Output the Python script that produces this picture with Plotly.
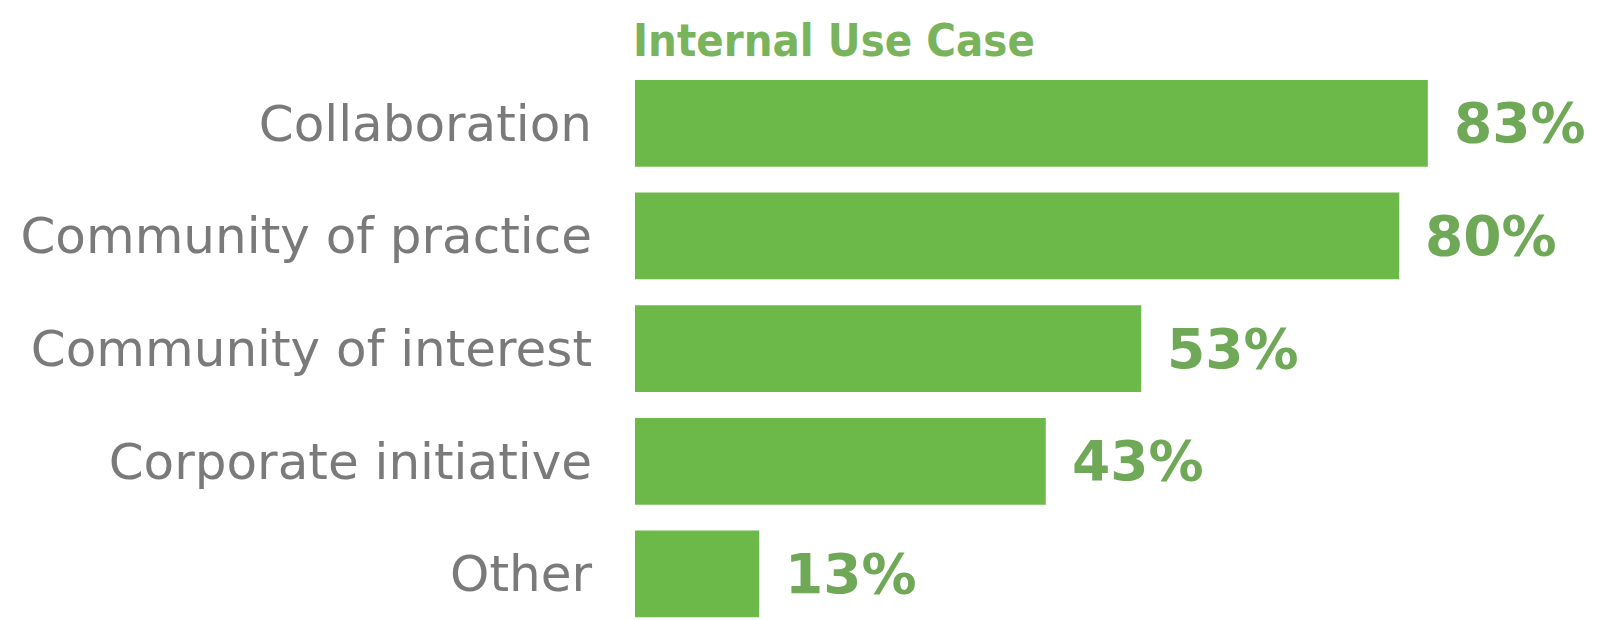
import plotly.graph_objects as go

categories = ["Collaboration", "Community of practice", "Community of interest",
              "Corporate initiative", "Other"]
values = [83, 80, 53, 43, 13]
value_labels = ["83%", "80%", "53%", "43%", "13%"]
title_text = "Internal Use Case"

BAR = "#6cb94a"
VAL = "#6fa958"
LAB = "#7a7a7a"

fig = go.Figure()
fig.add_trace(go.Bar(
    x=values, y=categories, orientation="h",
    marker=dict(color=BAR, line=dict(width=0)),
    hoverinfo="skip",
))

for v, c, t in zip(values, categories, value_labels):
    fig.add_annotation(x=v, y=c, xref="x", yref="y", text=t, showarrow=False,
                       xanchor="left", yanchor="middle", xshift=24,
                       font=dict(family="DejaVu Sans", size=55, color=VAL, weight="bold"))

fig.add_annotation(x=0, y=1, xref="paper", yref="paper", text=title_text,
                   showarrow=False, xanchor="left", yanchor="bottom", xshift=-4, yshift=-2,
                   font=dict(family="DejaVu Sans Condensed", size=45, color="#79b35c",
                             weight="bold"))

fig.update_layout(
    width=1608, height=620,
    margin=dict(l=627, r=0, t=59, b=0),
    paper_bgcolor="white", plot_bgcolor="white",
    bargap=0.23, showlegend=False,
    xaxis=dict(range=[0, 102.7], visible=False, fixedrange=True),
    yaxis=dict(autorange=False, range=[4.48, -0.5], showgrid=False, zeroline=False,
               showline=False, ticks="", ticklabelstandoff=42,
               tickfont=dict(family="DejaVu Sans", size=50, color=LAB)),
)

fig.write_html("out.html")
